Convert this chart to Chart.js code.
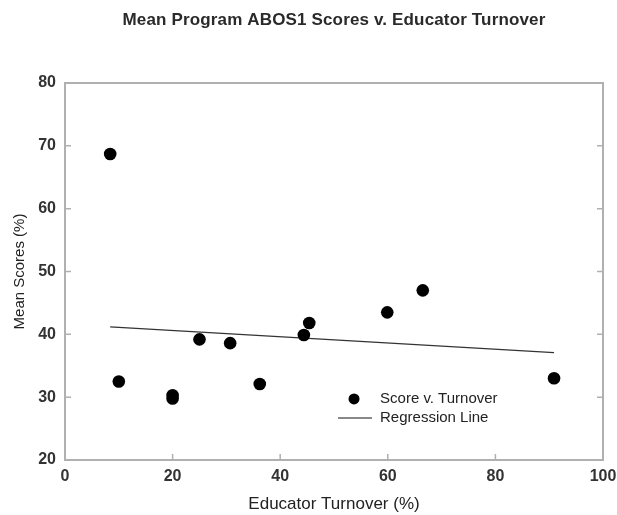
<!DOCTYPE html>
<html>
<head>
<meta charset="utf-8">
<script src="https://cdn.jsdelivr.net/npm/chart.js@4.4.1/dist/chart.umd.min.js"></script>
<style>
  html, body { margin: 0; padding: 0; background: #fff; }
  #wrap { width: 617px; height: 515px; }
</style>
</head>
<body>
<div id="wrap"><canvas id="c" width="617" height="515"></canvas></div>
<script>
const turnover = [8.4, 10.0, 20.0, 20.0, 25.0, 30.7, 36.2, 44.4, 45.4, 59.9, 66.5, 90.9];
const scores   = [68.7, 32.5, 30.3, 29.8, 39.2, 38.6, 32.1, 39.9, 41.8, 43.5, 47.0, 33.0];
const regressionX = [8.4, 90.9];
const regressionY = [41.2, 37.1];
const xTicks = [0, 20, 40, 60, 80, 100];
const yTicks = [20, 30, 40, 50, 60, 70, 80];
const titleText = 'Mean Program ABOS1 Scores v. Educator Turnover';
const xTitle = 'Educator Turnover (%)';
const yTitle = 'Mean Scores (%)';
const legendLabels = ['Score v. Turnover', 'Regression Line'];

const FONT = '"Liberation Sans", Arial, Helvetica, sans-serif';

const framePlugin = {
  id: 'frame',
  afterDraw(chart) {
    const ctx = chart.ctx;
    const a = chart.chartArea;
    const w = a.right - a.left, h = a.bottom - a.top;
    const xs = chart.scales.x, ys = chart.scales.y;
    ctx.save();
    // frame
    ctx.strokeStyle = '#b0b0b0';
    ctx.lineWidth = 2;
    ctx.strokeRect(a.left, a.top, w, h);
    // inward ticks
    ctx.lineWidth = 1.5;
    ctx.beginPath();
    yTicks.forEach(v => {
      const y = ys.getPixelForValue(v);
      ctx.moveTo(a.left, y); ctx.lineTo(a.left + 6, y);
      ctx.moveTo(a.right, y); ctx.lineTo(a.right - 6, y);
    });
    xTicks.forEach(v => {
      const x = xs.getPixelForValue(v);
      ctx.moveTo(x, a.bottom); ctx.lineTo(x, a.bottom - 6);
    });
    ctx.stroke();
    // title
    ctx.fillStyle = '#2a2a2a';
    ctx.font = 'bold 17px ' + FONT;
    try { ctx.letterSpacing = '0.15px'; } catch (e) {}
    ctx.textAlign = 'center';
    ctx.textBaseline = 'middle';
    ctx.fillText(titleText, (a.left + a.right) / 2, 20);
    try { ctx.letterSpacing = '0px'; } catch (e) {}
    // legend
    const lx = a.left + 0.5075 * w;
    const ly1 = a.top + 0.838 * h;
    const ly2 = ly1 + 19;
    ctx.fillStyle = '#000';
    ctx.beginPath();
    ctx.arc(lx + 16, ly1, 5.5, 0, Math.PI * 2);
    ctx.fill();
    ctx.strokeStyle = '#888';
    ctx.lineWidth = 2;
    ctx.beginPath();
    ctx.moveTo(lx, ly2); ctx.lineTo(lx + 34, ly2);
    ctx.stroke();
    ctx.fillStyle = '#222';
    ctx.font = '15px ' + FONT;
    ctx.textAlign = 'left';
    ctx.fillText(legendLabels[0], lx + 42, ly1);
    ctx.fillText(legendLabels[1], lx + 42, ly2);
    ctx.restore();
  }
};

new Chart(document.getElementById('c'), {
  type: 'scatter',
  data: {
    datasets: [
      {
        label: legendLabels[0],
        data: turnover.map((x, i) => ({ x, y: scores[i] })),
        pointRadius: 6.3,
        pointBackgroundColor: '#000',
        pointBorderWidth: 0,
        showLine: false
      },
      {
        label: legendLabels[1],
        data: regressionX.map((x, i) => ({ x, y: regressionY[i] })),
        showLine: true,
        pointRadius: 0,
        borderColor: '#333',
        borderWidth: 1.3
      }
    ]
  },
  options: {
    responsive: false,
    animation: false,
    layout: { padding: { top: 83, right: 14, left: 0, bottom: 0 } },
    plugins: { legend: { display: false }, title: { display: false }, tooltip: { enabled: false } },
    scales: {
      x: {
        type: 'linear', min: 0, max: 100,
        afterBuildTicks: s => { s.ticks = xTicks.map(v => ({ value: v })); },
        afterFit: s => { s.height = 55; s.paddingLeft = 0; s.paddingRight = 0; },
        grid: { display: false, drawTicks: false },
        border: { display: false },
        ticks: { color: '#333', font: { family: FONT, size: 16, weight: 'bold' }, padding: 7, maxRotation: 0 },
        title: { display: true, text: xTitle, color: '#222', font: { family: FONT, size: 17 }, padding: { top: 8, bottom: 0 } }
      },
      y: {
        type: 'linear', min: 20, max: 80,
        afterBuildTicks: s => { s.ticks = yTicks.map(v => ({ value: v })); },
        afterFit: s => { s.width = 65; s.paddingTop = 0; s.paddingBottom = 0; },
        grid: { display: false, drawTicks: false },
        border: { display: false },
        ticks: { color: '#333', font: { family: FONT, size: 16, weight: 'bold' }, padding: 9 },
        title: { display: true, text: yTitle, color: '#222', font: { family: FONT, size: 15 }, padding: { top: 11, bottom: 0 } }
      }
    }
  },
  plugins: [framePlugin]
});
</script>
</body>
</html>
